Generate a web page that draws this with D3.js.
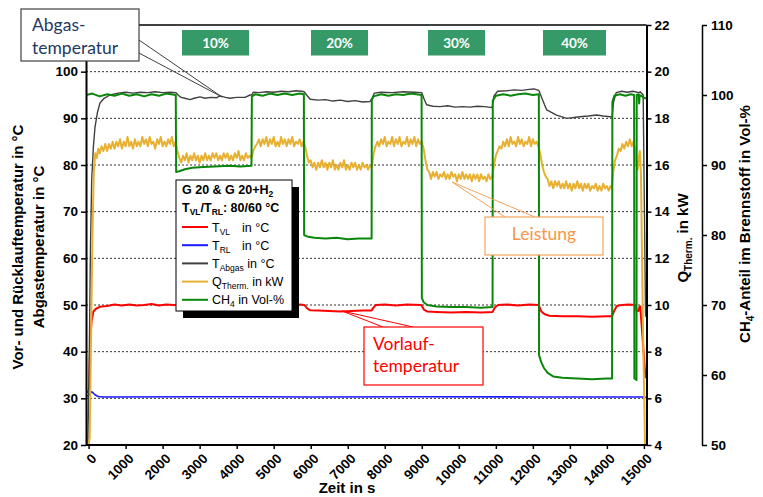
<!DOCTYPE html>
<html><head><meta charset="utf-8">
<script src="https://cdn.jsdelivr.net/npm/d3@7"></script>
<style>body{margin:0;background:#fff} svg{display:block}</style>
</head><body>
<svg id="c" width="763" height="497"></svg>
<script>
// ---------- DATA ----------
const tickX = [0,1000,2000,3000,4000,5000,6000,7000,8000,9000,10000,11000,12000,13000,14000,15000];
const tickT = [20,30,40,50,60,70,80,90,100];
const gridT = [30,40,50,60,70,80,90,100];
const tickQ = [4,6,8,10,12,14,16,18,20,22];
const tickC = [50,60,70,80,90,100,110];
const phaseLabels = ["10%","20%","30%","40%"];
const phaseStart = [2360,5820,9000,12165];

const tVL = [
[-70,31.2],[0,31.5],[20,33.0],[40,42.0],[80,46.5],[130,48.6],[200,49.2],[300,49.6],[500,49.8],[700,50.1],[900,49.9],[1100,50.1],[1300,49.9],[1500,50.0],[1700,50.2],[1900,49.9],[2100,50.1],[2300,50.0],[2600,49.9],[3000,50.0],[3500,49.9],[4000,50.0],[4500,50.1],[4800,49.9],[5100,50.1],[5400,50.0],[5700,50.1],[5830,50.0],
[5900,49.3],[5980,48.9],[6200,48.8],[6500,48.7],[6800,48.6],[7100,48.7],[7400,48.8],[7640,48.8],[7700,49.5],[7760,50.0],[8000,50.1],[8300,49.9],[8600,50.1],[8990,50.0],
[9060,49.0],[9150,48.6],[9400,48.5],[9800,48.4],[10200,48.5],[10600,48.4],[10910,48.5],[10980,49.5],[11060,50.0],[11300,50.1],[11600,49.9],[11900,50.1],[12160,50.0],
[12230,48.6],[12320,48.0],[12450,47.7],[12800,47.6],[13200,47.6],[13600,47.5],[14000,47.6],[14140,47.6],[14200,48.8],[14270,49.8],[14400,50.0],[14600,50.1],[14770,50.0],
[14800,48.8],[14850,48.7],[14880,49.6],[14900,49.7],[15045,34.3]
];
const tRL = [[-70,30.5],[0,30.6],[40,31.0],[80,31.4],[120,31.2],[180,30.7],[260,30.4],[400,30.3],[3000,30.35],[6000,30.3],[9000,30.35],[12000,30.3],[15000,30.3],[15050,30.2]];
const tAbgas = [
[-20,20.0],[20,40.0],[50,62.0],[84,76.8],[130,84.0],[173,88.1],[240,91.3],[308,93.3],[420,94.3],[578,95.0],[800,95.4],[1000,95.6],[1200,95.4],[1400,95.6],[1600,95.5],[1800,95.7],[2000,95.5],[2200,95.6],[2360,95.5],
[2430,94.9],[2500,94.5],[2600,94.3],[2745,94.0],[2850,94.3],[3010,94.6],[3150,94.3],[3300,94.5],[3450,94.4],[3550,94.8],[3700,94.5],[3820,94.3],[4000,94.5],[4225,94.5],[4360,95.0],[4405,95.0],
[4450,95.6],[4600,95.5],[4800,95.7],[5000,95.6],[5200,95.8],[5400,95.7],[5600,95.9],[5750,95.8],[5820,95.7],
[5900,94.9],[5985,94.1],[6200,93.9],[6400,94.0],[6600,93.7],[6800,93.9],[7000,93.6],[7200,93.8],[7400,93.5],[7600,93.6],[7650,94.2],
[7720,95.4],[7900,95.6],[8200,95.5],[8500,95.7],[8800,95.6],[9000,95.5],
[9060,94.2],[9130,92.9],[9300,92.6],[9500,92.5],[9700,92.7],[9900,92.4],[10100,92.5],[10300,92.4],[10500,92.6],[10700,92.5],[10900,92.3],
[10950,94.8],[11050,95.8],[11300,95.9],[11500,96.1],[11700,96.0],[11900,96.2],[12030,96.3],[12160,96.0],
[12280,93.6],[12375,91.8],[12640,90.7],[12915,90.0],[13270,90.35],[13500,90.5],[13725,90.7],[13900,90.5],[14085,90.35],[14140,90.2],
[14180,93.5],[14250,95.5],[14400,95.8],[14550,95.6],[14700,95.8],[14860,95.5],[14900,95.7],[14980,95.0],[15045,47.5]
];
const qTherm = [
[-60,4.0],[0,4.0],[30,4.3],[60,7.8],[100,12.6],[140,15.7],[180,16.5],[220,16.3],[260,16.7],[300,16.5],[350,16.8],[400,16.6],[450,16.9],[500,16.6],[550,16.9],[600,16.7],[650,17.0],[700,16.7],[750,17.0],[800,16.8],[850,17.1],[900,16.7],[950,17.0],[1000,16.8],[1050,17.2],[1100,16.8],[1150,17.0],[1200,16.7],[1250,17.1],[1300,16.8],[1350,17.0],[1400,16.8],[1450,17.2],[1500,16.9],[1550,17.1],[1600,16.8],[1650,17.2],[1700,16.9],[1750,17.0],[1800,16.7],[1850,17.1],[1900,16.9],[1950,17.2],[2000,16.8],[2050,17.0],[2100,16.8],[2150,17.1],[2200,16.9],[2250,17.2],[2300,16.8],[2350,17.0],
[2400,16.6],[2450,16.3],[2500,16.1],[2550,16.4],[2600,16.2],[2650,16.5],[2700,16.1],[2750,16.4],[2800,16.2],[2850,16.5],[2900,16.2],[2950,16.4],[3000,16.1],[3050,16.4],[3100,16.2],[3150,16.5],[3200,16.2],[3250,16.4],[3300,16.2],[3350,16.5],[3400,16.3],[3450,16.5],[3500,16.2],[3550,16.4],[3600,16.2],[3650,16.5],[3700,16.3],[3750,16.5],[3800,16.2],[3850,16.4],[3900,16.2],[3950,16.5],[4000,16.3],[4050,16.6],[4100,16.2],[4150,16.4],[4200,16.2],[4250,16.5],[4300,16.3],[4350,16.4],[4400,16.3],
[4450,16.6],[4500,16.8],[4550,16.9],[4600,17.1],[4650,16.8],[4700,17.1],[4750,16.9],[4800,17.2],[4850,16.8],[4900,17.1],[4950,16.9],[5000,17.2],[5050,16.8],[5100,17.0],[5150,16.8],[5200,17.2],[5250,16.9],[5300,17.1],[5350,16.8],[5400,17.1],[5450,16.9],[5500,17.2],[5550,16.8],[5600,17.0],[5650,16.9],[5700,17.1],[5750,16.8],[5800,17.0],
[5850,16.8],[5900,16.4],[5950,16.1],[6000,16.2],[6050,15.9],[6100,16.1],[6150,15.8],[6200,16.1],[6250,15.9],[6300,16.2],[6350,15.9],[6400,16.1],[6450,15.8],[6500,16.1],[6550,15.9],[6600,16.2],[6650,15.8],[6700,16.0],[6750,15.8],[6800,16.1],[6850,15.9],[6900,16.2],[6950,15.8],[7000,16.0],[7050,15.8],[7100,16.1],[7150,15.9],[7200,16.1],[7250,15.8],[7300,16.0],[7350,15.8],[7400,16.1],[7450,15.9],[7500,16.0],[7550,15.8],[7600,16.0],[7650,15.9],
[7700,16.5],[7750,16.8],[7800,17.0],[7850,16.8],[7900,17.1],[7950,16.9],[8000,17.2],[8050,16.8],[8100,17.0],[8150,16.9],[8200,17.2],[8250,16.8],[8300,17.1],[8350,16.9],[8400,17.2],[8450,16.8],[8500,17.0],[8550,16.9],[8600,17.2],[8650,16.8],[8700,17.1],[8750,16.9],[8800,17.2],[8850,16.8],[8900,17.1],[8950,16.9],[9000,17.0],
[9050,16.7],[9100,16.2],[9150,15.8],[9200,15.7],[9250,15.4],[9300,15.7],[9350,15.5],[9400,15.7],[9450,15.4],[9500,15.6],[9550,15.5],[9600,15.7],[9650,15.4],[9700,15.6],[9750,15.4],[9800,15.7],[9850,15.5],[9900,15.6],[9950,15.3],[10000,15.6],[10050,15.4],[10100,15.7],[10150,15.4],[10200,15.6],[10250,15.4],[10300,15.6],[10350,15.3],[10400,15.6],[10450,15.4],[10500,15.6],[10550,15.3],[10600,15.6],[10650,15.4],[10700,15.5],[10750,15.3],[10800,15.6],[10850,15.4],[10900,15.5],
[10950,16.0],[11000,16.4],[11050,16.6],[11100,16.8],[11150,16.7],[11200,17.0],[11250,16.8],[11300,17.1],[11350,16.8],[11400,17.2],[11450,16.9],[11500,17.0],[11550,16.8],[11600,17.2],[11650,16.9],[11700,17.1],[11750,16.8],[11800,17.0],[11850,16.9],[11900,17.2],[11950,16.8],[12000,17.1],[12050,16.9],[12100,17.0],[12150,16.8],
[12200,16.5],[12250,16.0],[12300,15.7],[12350,15.5],[12400,15.4],[12450,15.1],[12500,15.3],[12550,15.0],[12600,15.3],[12650,15.1],[12700,15.3],[12750,15.0],[12800,15.2],[12850,15.0],[12900,15.3],[12950,15.0],[13000,15.2],[13050,14.9],[13100,15.2],[13150,15.0],[13200,15.3],[13250,15.0],[13300,15.2],[13350,14.9],[13400,15.2],[13450,15.0],[13500,15.2],[13550,14.9],[13600,15.1],[13650,15.0],[13700,15.2],[13750,14.9],[13800,15.1],[13850,14.9],[13900,15.2],[13950,15.0],[14000,15.1],[14050,14.9],[14100,15.1],[14130,15.0],
[14170,15.7],[14220,16.2],[14270,16.4],[14320,16.7],[14370,16.6],[14420,16.9],[14470,16.7],[14520,17.0],[14570,16.8],[14620,17.1],[14670,16.8],[14720,17.0],[14760,16.7],[14800,16.0],[14830,15.8],[14860,16.3],[14890,16.6],[14920,15.6],[14970,9.5],[15030,4.0]
];
const ch4 = [
[-70,100.0],[100,100.2],[300,99.8],[500,100.1],[700,99.9],[900,100.2],[1100,99.9],[1300,100.1],[1500,99.8],[1700,100.1],[1900,99.9],[2100,100.2],[2355,100.0],
[2365,89.0],[2450,89.1],[2600,89.4],[2800,89.6],[3100,89.7],[3400,89.8],[3800,89.9],[4100,89.8],[4400,89.9],
[4410,99.8],[4500,100.1],[4700,99.9],[4900,100.2],[5100,100.0],[5300,100.2],[5500,100.0],[5700,100.2],[5815,100.1],
[5822,80.0],[5900,79.8],[6100,79.6],[6400,79.5],[6700,79.6],[7000,79.4],[7300,79.5],[7645,79.5],
[7650,99.3],[7700,99.8],[7900,100.1],[8100,99.9],[8300,100.1],[8500,100.0],[8700,100.2],[8995,100.0],
[9002,71.0],[9050,70.4],[9150,70.0],[9400,69.8],[9800,69.7],[10200,69.7],[10600,69.6],[10912,69.7],
[10918,99.2],[11000,99.9],[11200,100.1],[11400,99.9],[11600,100.1],[11800,100.2],[12000,100.0],[12162,100.1],
[12168,62.8],[12230,61.8],[12300,61.0],[12400,60.3],[12550,59.8],[12800,59.6],[13200,59.5],[13600,59.4],[14000,59.5],[14140,59.5],
[14148,99.0],[14200,99.9],[14350,100.1],[14500,99.9],[14650,100.1],[14735,100.0],
[14742,59.5],[14800,59.3],[14806,100.0],[14860,100.1],[14872,98.8],[14885,100.0],[14950,99.8],[15000,99.6],[15055,99.5]
];

// ---------- CHART ----------
const svg = d3.select('#c');
const L = 86, R = 646.5, T = 25, B = 445, R2 = 702;
const AX = "'Liberation Sans', Arial, sans-serif";
const CAL = "Lato, 'Open Sans', sans-serif";
const x  = d3.scaleLinear().domain([-70, 15070]).range([L, R]);
const yT = d3.scaleLinear().domain([20, 110]).range([B, T]);
const yQ = d3.scaleLinear().domain([4, 22]).range([B, T]);
const yC = d3.scaleLinear().domain([50, 110]).range([B, T]);

// grid
svg.append('g').selectAll('line').data(gridT).join('line')
  .attr('x1', L).attr('x2', R).attr('y1', d => yT(d)).attr('y2', d => yT(d))
  .attr('stroke', '#333').attr('stroke-width', 1).attr('stroke-dasharray', '2,2');

// top border
svg.append('line').attr('x1', L).attr('x2', R).attr('y1', T).attr('y2', T)
  .attr('stroke', '#000').attr('stroke-width', 1.5);

// series
svg.append('clipPath').attr('id', 'pc').append('rect')
  .attr('x', L).attr('y', T).attr('width', R - L + 2).attr('height', B - T);
const series = [
  {d: tVL, y: yT, c: '#ff0000', w: 2},
  {d: tRL, y: yT, c: '#1a1aff', w: 1.6},
  {d: tAbgas, y: yT, c: '#404040', w: 1.4},
  {d: qTherm, y: yQ, c: '#e8b030', w: 2},
  {d: ch4, y: yC, c: '#0a870a', w: 2}
];
const gS = svg.append('g').attr('clip-path', 'url(#pc)');
series.forEach(s => {
  gS.append('path').datum(s.d)
    .attr('d', d3.line().x(p => x(p[0])).y(p => s.y(p[1])))
    .attr('fill', 'none').attr('stroke', s.c).attr('stroke-width', s.w)
    .attr('stroke-linejoin', 'round');
});

// axes
function styleAxis(g, dw) {
  g.select('.domain').attr('stroke', '#000').attr('stroke-width', dw);
  g.selectAll('.tick line').attr('stroke', '#000').attr('stroke-width', 1.5);
  g.selectAll('.tick text').attr('font-family', AX).attr('font-weight', 'bold')
    .attr('font-size', '13.5px').attr('fill', '#000');
}
const gL = svg.append('g').attr('transform', `translate(${L},0)`)
  .call(d3.axisLeft(yT).tickValues(tickT).tickSize(5).tickPadding(3).tickSizeOuter(0));
styleAxis(gL, 2);
const gQ = svg.append('g').attr('transform', `translate(${R},0)`)
  .call(d3.axisRight(yQ).tickValues(tickQ).tickSize(5).tickPadding(3).tickSizeOuter(0));
styleAxis(gQ, 2);
const gC = svg.append('g').attr('transform', `translate(${R2},0)`)
  .call(d3.axisRight(yC).tickValues(tickC).tickSize(5).tickPadding(4).tickSizeOuter(0));
styleAxis(gC, 1.5);
const gX = svg.append('g').attr('transform', `translate(0,${B})`)
  .call(d3.axisBottom(x).tickValues(tickX).tickSize(4).tickSizeOuter(0).tickFormat(d3.format('d')));
styleAxis(gX, 2);
gX.select('.domain').attr('d', `M${L},0H${R}`);
gX.selectAll('.tick text').attr('text-anchor', 'end').attr('x', 0).attr('y', 0)
  .attr('dy', '0.35em').attr('transform', 'translate(5,11) rotate(-45)');

// axis titles
function title(xp, yp, rot, parts, size) {
  const t = svg.append('text').attr('transform', `translate(${xp},${yp}) rotate(${rot})`)
    .attr('text-anchor', 'middle').attr('font-family', AX).attr('font-weight', 'bold')
    .attr('font-size', size || '15px').attr('fill', '#000');
  parts.forEach(p => {
    const ts = t.append('tspan').text(p.t);
    if (p.sub) ts.attr('font-size', '10px').attr('dy', 4);
    if (p.up) ts.attr('dy', -4);
  });
  return t;
}
title(23, 247, -90, [{t: 'Vor- und Rücklauftemperatur in °C'}]);
title(44, 247, -90, [{t: 'Abgastemperatur  in °C'}]);
title(688, 238, -90, [{t: 'Q'}, {t: 'Therm.', sub: 1}, {t: '  in kW', up: 1}]);
title(750, 224, -90, [{t: 'CH'}, {t: '4', sub: 1}, {t: '-Anteil im Brennstoff in Vol-%', up: 1}]);
svg.append('text').attr('x', 347).attr('y', 493).attr('text-anchor', 'middle')
  .attr('font-family', AX).attr('font-weight', 'bold').attr('font-size', '15px').text('Zeit in s');

// phase labels (green boxes)
const phaseBox = [[182, 249], [311, 368], [428, 485], [543, 606]];
phaseLabels.forEach((lab, i) => {
  const [a, b] = phaseBox[i];
  svg.append('rect').attr('x', a).attr('y', 30).attr('width', b - a).attr('height', 25.5).attr('fill', '#359a67');
  svg.append('text').attr('x', (a + b) / 2).attr('y', 47.5).attr('text-anchor', 'middle')
    .attr('font-family', CAL).attr('font-weight', 'bold').attr('font-size', '13.5px')
    .attr('fill', '#fff').text(lab);
});

// legend
svg.append('rect').attr('x', 183).attr('y', 187).attr('width', 116).attr('height', 131).attr('fill', '#000');
svg.append('rect').attr('x', 176).attr('y', 180).attr('width', 116).attr('height', 131)
  .attr('fill', '#fff').attr('stroke', '#000').attr('stroke-width', 1);
function ltext(xp, yp, parts, bold) {
  const t = svg.append('text').attr('x', xp).attr('y', yp).attr('font-family', AX)
    .attr('font-size', '12.5px').attr('font-weight', bold ? 'bold' : 'normal').attr('fill', '#000');
  parts.forEach(p => {
    const ts = t.append('tspan').text(p.t);
    if (p.sub) ts.attr('font-size', '8.5px').attr('dy', 3);
    if (p.up) ts.attr('dy', -3);
    if (p.x) ts.attr('x', p.x);
  });
}
ltext(182, 194, [{t: 'G 20 & G 20+H'}, {t: '2', sub: 1}], true);
ltext(182, 212, [{t: 'T'}, {t: 'VL', sub: 1}, {t: '/T', up: 1}, {t: 'RL', sub: 1}, {t: ': 80/60 °C', up: 1}], true);
const legItems = [
  {c: '#ff0000', p: [{t: 'T'}, {t: 'VL', sub: 1}, {t: 'in °C', up: 1, x: 242}]},
  {c: '#1a1aff', p: [{t: 'T'}, {t: 'RL', sub: 1}, {t: 'in °C', up: 1, x: 242}]},
  {c: '#404040', p: [{t: 'T'}, {t: 'Abgas', sub: 1}, {t: ' in °C', up: 1}]},
  {c: '#e8b030', p: [{t: 'Q'}, {t: 'Therm.', sub: 1}, {t: ' in kW', up: 1}]},
  {c: '#0a870a', p: [{t: 'CH'}, {t: '4', sub: 1}, {t: ' in Vol-%', up: 1}]}
];
legItems.forEach((it, i) => {
  const yy = 227 + i * 18.2;
  svg.append('line').attr('x1', 182).attr('x2', 208).attr('y1', yy).attr('y2', yy)
    .attr('stroke', it.c).attr('stroke-width', 2);
  ltext(212, yy + 4.5, it.p, false);
});

// annotations
function callout(bx, by, bw, bh, lines, color, textColor, tx, ty, lead) {
  const g = svg.append('g');
  lead.forEach(l => g.append('line').attr('x1', l[0]).attr('y1', l[1]).attr('x2', l[2]).attr('y2', l[3])
    .attr('stroke', color).attr('stroke-width', 1));
  g.append('rect').attr('x', bx).attr('y', by).attr('width', bw).attr('height', bh)
    .attr('fill', '#fff').attr('stroke', color).attr('stroke-width', 1.2);
  lines.forEach((s, i) => g.append('text').attr('x', tx).attr('y', ty + i * 22.5)
    .attr('font-family', CAL).attr('font-size', '17.5px').attr('fill', textColor)
    .attr('text-anchor', lines.length === 1 ? 'middle' : 'start').text(s));
}
callout(21, 9, 118, 52, ['Abgas-', 'temperatur'], '#404040', '#1f3864', 32, 31,
  [[139, 40, 222, 97], [139, 53, 222, 97]]);
callout(485, 217, 118, 38, ['Leistung'], '#f5a25a', '#f79646', 544, 240,
  [[505, 217, 452, 182], [535, 217, 452, 182]]);
callout(364, 327, 119, 58, ['Vorlauf-', 'temperatur'], '#ff0000', '#ff0000', 373, 349.5,
  [[342, 311, 383, 327], [342, 311, 413, 327]]);
</script>
</body></html>
